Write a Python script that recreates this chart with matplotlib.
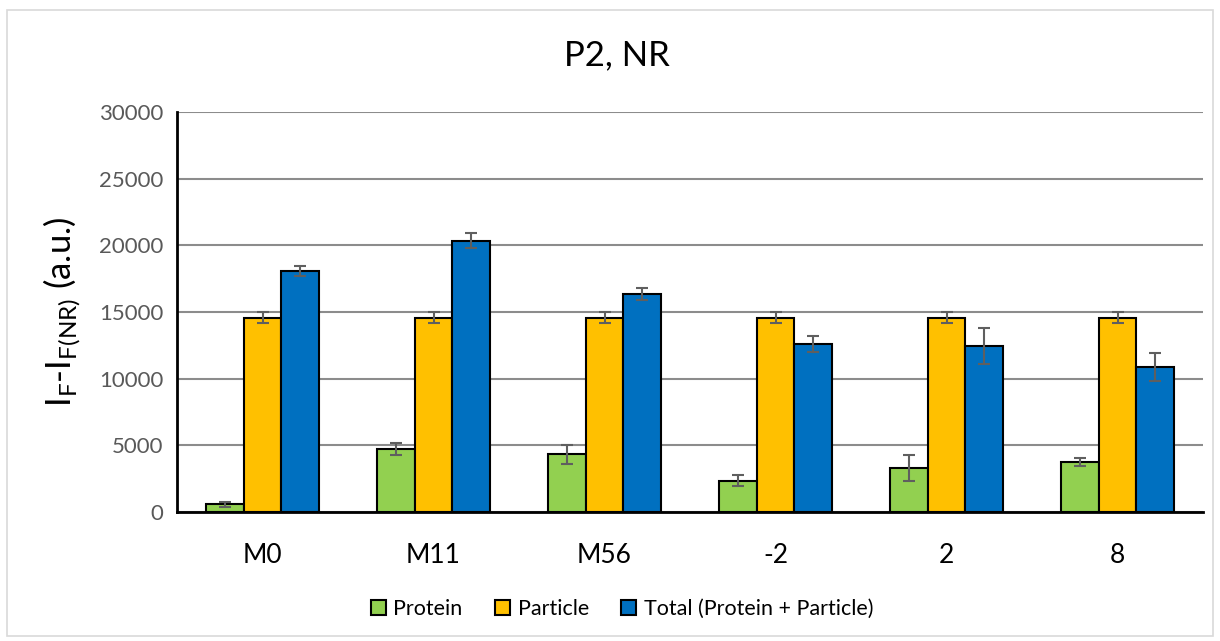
import matplotlib
matplotlib.use("Agg")
import matplotlib.pyplot as plt
import numpy as np
from matplotlib.patches import Rectangle

plt.rcParams['font.family'] = ['Lato', 'DejaVu Sans']
plt.rcParams['mathtext.fontset'] = 'custom'
plt.rcParams['mathtext.rm'] = 'Lato'

categories = ["M0", "M11", "M56", "-2", "2", "8"]
series_names = ["Protein", "Particle", "Total (Protein + Particle)"]
protein = [570, 4750, 4325, 2350, 3325, 3750]
protein_err = [200, 450, 725, 435, 975, 290]
particle = [14580, 14580, 14580, 14580, 14580, 14580]
particle_err = [430, 430, 430, 430, 430, 430]
total = [18075, 20350, 16350, 12625, 12475, 10875]
total_err = [400, 575, 450, 610, 1350, 1075]
colors = ["#92D050", "#FFC000", "#0070C0"]
yticks = [0, 5000, 10000, 15000, 20000, 25000, 30000]

fig = plt.figure(figsize=(12.2, 6.41), dpi=100)
ax = fig.add_axes([177/1220, 1 - 512/641, (1203-177)/1220, 400/641])

x = np.arange(len(categories))
w = 0.222
data = [(protein, protein_err), (particle, particle_err), (total, total_err)]
for i, ((vals, errs), c, name) in enumerate(zip(data, colors, series_names)):
    ax.bar(x + (i - 1) * w, vals, width=w, color=c, edgecolor="black",
           linewidth=1.5, label=name, zorder=3,
           yerr=errs, error_kw=dict(ecolor="#5f5f5f", elinewidth=1.5,
                                    capsize=4.3, capthick=1.5, zorder=4))

ax.set_xlim(-0.5, len(categories) - 0.5)
ax.set_ylim(0, 30000)
ax.set_yticks(yticks)
ax.set_yticklabels([str(t) for t in yticks], fontsize=16, color="#595959")
ax.set_xticks(x)
ax.set_xticklabels(categories, fontsize=19, color="black")
ax.tick_params(axis='y', length=0, pad=10)
ax.tick_params(axis='x', length=0, pad=22)
ax.grid(axis='y', color="#8c8c8c", linewidth=1.5, zorder=0)
ax.set_axisbelow(True)
for s in ["top", "right"]:
    ax.spines[s].set_visible(False)
ax.spines["left"].set_linewidth(2)
ax.spines["bottom"].set_linewidth(2)
ax.spines["left"].set_zorder(5)
ax.spines["bottom"].set_zorder(5)

ax.set_ylabel(r'I$_{\mathregular{F}}$-I$_{\mathregular{F(NR)}}$ (a.u.)', fontsize=25)
ax.yaxis.set_label_coords(-0.093, 0.5)

fig.text(617/1220, 1 - 55/641, "P2, NR", fontsize=25, ha="center", va="center")

leg = fig.legend(loc="center", bbox_to_anchor=(622/1220, 1 - 609/641), ncol=3,
                 frameon=False, fontsize=15.5, handlelength=0.7, handleheight=0.7,
                 columnspacing=1.5, handletextpad=0.35)
for h in leg.legend_handles:
    h.set_linewidth(1.5)

fig.patches.append(Rectangle((7/1220, 1 - 636/641), 1206/1220, 626/641,
                             transform=fig.transFigure, fill=False,
                             edgecolor="#d9d9d9", linewidth=1.2))

fig.savefig("out.png", dpi=100)
